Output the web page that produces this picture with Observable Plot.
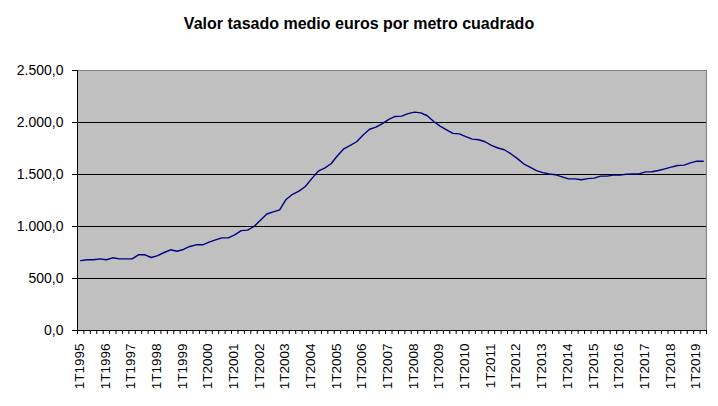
<!DOCTYPE html>
<html>
<head>
<meta charset="utf-8">
<script src="https://cdn.jsdelivr.net/npm/d3@7"></script>
<script src="https://cdn.jsdelivr.net/npm/@observablehq/plot@0.6"></script>
<style>
  body { margin: 0; background: #fff; font-family: "Liberation Sans", Arial, sans-serif; }
  #titulo { height: 50px; box-sizing: border-box; padding-top: 15px; text-align: center;
            font-weight: bold; font-size: 16px; color: #000; }
  #grafico svg { display: block; }
</style>
</head>
<body>
<div id="titulo">Valor tasado medio euros por metro cuadrado</div>
<div id="grafico"></div>
<script>
// Años de la serie trimestral (1T1995 – 2T2019)
const anios = [1995, 1996, 1997, 1998, 1999, 2000, 2001, 2002, 2003, 2004, 2005, 2006,
               2007, 2008, 2009, 2010, 2011, 2012, 2013, 2014, 2015, 2016, 2017, 2018, 2019];

// Valor tasado medio (€/m²) por trimestre
const valores = [
  672, 680, 680, 689, 680, 699, 689, 689, 689, 728, 728, 702,          // 1995–1997
  720, 750, 776, 762, 779, 808, 824, 824, 849, 872, 891, 891,          // 1998–2000
  920, 960, 965, 1000, 1060, 1120, 1140, 1160, 1260, 1310, 1340, 1385, // 2001–2003
  1460, 1532, 1561, 1603, 1680, 1747, 1780, 1815, 1880, 1935, 1955, 1990, // 2004–2006
  2030, 2058, 2061, 2085, 2100, 2093, 2065, 2010, 1965, 1930, 1895, 1891, // 2007–2009
  1865, 1840, 1834, 1815, 1780, 1755, 1738, 1700, 1655, 1603, 1570, 1537, // 2010–2012
  1518, 1505, 1497, 1477, 1458, 1458, 1449, 1460, 1465, 1484, 1484, 1494, // 2013–2015
  1494, 1503, 1505, 1506, 1525, 1526, 1538, 1554, 1571, 1587, 1590, 1612, // 2016–2018
  1628, 1628                                                              // 2019
];

// Marcas del eje vertical y líneas de división
const marcasY = [0, 500, 1000, 1500, 2000, 2500];
const lineasGuia = [500, 1000, 1500, 2000];

// Etiquetas de categoría: "1T1995", "2T1995", ...
const trimestres = anios.flatMap(a => [1, 2, 3, 4].map(q => `${q}T${a}`)).slice(0, valores.length);
const n = trimestres.length;

// Cada trimestre ocupa una banda; el punto va en su centro
const datos = valores.map((v, i) => ({pos: i + 0.5, valor: v}));
const bordes = d3.range(n + 1);
const etiquetas = trimestres.map((t, i) => ({t, pos: i + 0.5})).filter(d => d.t.startsWith("1T")).map(d => d.pos);

const es = d3.formatLocale({decimal: ",", thousands: ".", grouping: [3], currency: ["", " €"]});
const formato = es.format(",.1f");

const grafico = Plot.plot({
  width: 718,
  height: 356,
  marginTop: 20,
  marginBottom: 76,
  marginLeft: 77,
  marginRight: 12,
  style: {fontFamily: "'Liberation Sans', Arial, sans-serif", fontSize: "13.5px", color: "#000", background: "#fff"},
  x: {domain: [0, n], axis: null, label: null},
  y: {domain: [0, 2500], axis: null, label: null},
  marks: [
    Plot.frame({fill: "#c0c0c0", stroke: "#808080"}),
    Plot.ruleY(lineasGuia, {stroke: "#000", strokeWidth: 1}),
    Plot.ruleX([0], {stroke: "#000"}),
    Plot.ruleY([0], {stroke: "#000"}),
    Plot.axisY(marcasY, {tickSize: 5, tickPadding: 9, tickFormat: formato, fontSize: 14, label: null, stroke: "#000"}),
    Plot.axisX(bordes, {tickSize: 4, tickFormat: () => "", label: null, stroke: "#000"}),
    Plot.axisX(etiquetas, {tickSize: 0, tickPadding: 13, tickRotate: -90, dx: -1, fontSize: 13.5, label: null,
                           tickFormat: d => trimestres[Math.floor(d)]}),
    Plot.line(datos, {x: "pos", y: "valor", stroke: "#000080", strokeWidth: 1.4})
  ]
});
document.getElementById("grafico").appendChild(grafico);
</script>
</body>
</html>
